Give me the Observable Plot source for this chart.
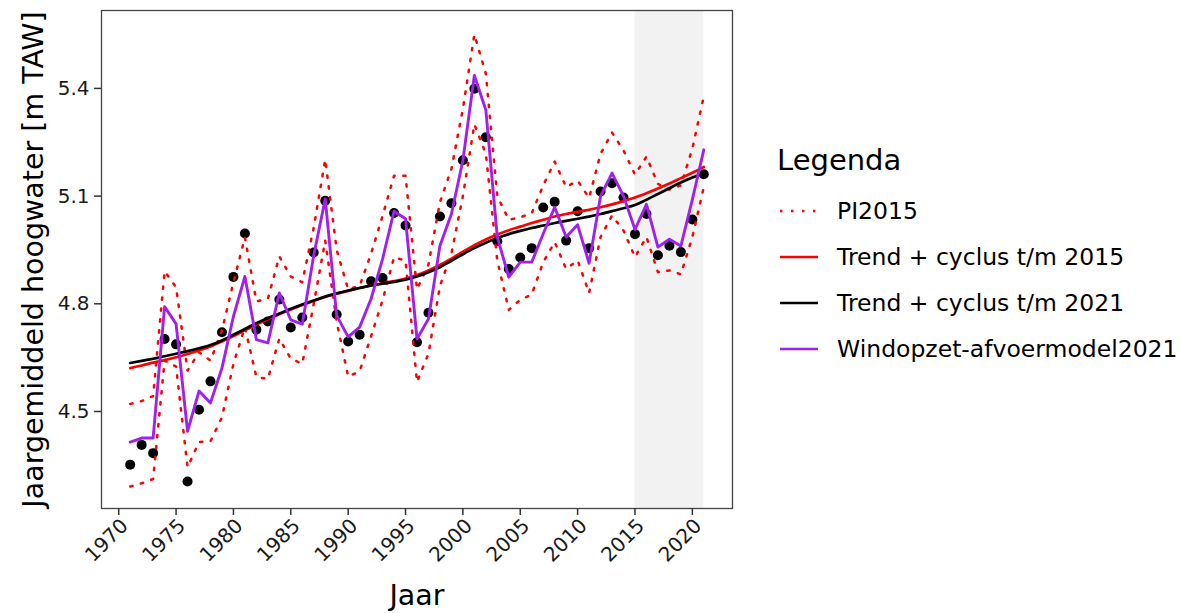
<!DOCTYPE html>
<html>
<head>
<meta charset="utf-8">
<script src="https://cdn.jsdelivr.net/npm/d3@7"></script>
<script src="https://cdn.jsdelivr.net/npm/@observablehq/plot@0.6"></script>
<style>
  body { margin: 0; background: #fff; font-family: "DejaVu Sans", sans-serif; }
  #wrap { position: relative; width: 1183px; height: 613px; }
  #legend-title { position: absolute; left: 777px; top: 140px; height: 40px; line-height: 40px; font-size: 29px; color: #000; }
  .row { position: absolute; left: 780px; height: 30px; display: flex; align-items: center; font-size: 23.5px; color: #000; white-space: nowrap; }
  .row svg { margin-right: 19px; }
</style>
</head>
<body>
<div id="wrap">
  <div id="chart"></div>
  <div id="legend-title">Legenda</div>
  <div id="legend"></div>
</div>
<script>
// Years of the annual series
const years = [1971, 1972, 1973, 1974, 1975, 1976, 1977, 1978, 1979, 1980,
  1981, 1982, 1983, 1984, 1985, 1986, 1987, 1988, 1989, 1990,
  1991, 1992, 1993, 1994, 1995, 1996, 1997, 1998, 1999, 2000,
  2001, 2002, 2003, 2004, 2005, 2006, 2007, 2008, 2009, 2010,
  2011, 2012, 2013, 2014, 2015, 2016, 2017, 2018, 2019, 2020, 2021];

// Observed annual mean high water [m TAW]
const observed = [4.352, 4.407, 4.384, 4.702, 4.687, 4.305, 4.505, 4.584, 4.721, 4.875,
  4.996, 4.728, 4.751, 4.812, 4.734, 4.762, 4.943, 5.087, 4.770, 4.695,
  4.714, 4.863, 4.872, 5.053, 5.018, 4.693, 4.775, 5.043, 5.080, 5.200,
  5.399, 5.264, 4.974, 4.897, 4.929, 4.955, 5.068, 5.084, 4.976, 5.058,
  4.955, 5.113, 5.136, 5.096, 4.994, 5.050, 4.935, 4.962, 4.944, 5.035, 5.161];

// Wind set-up / discharge model 2021
const windModel = [4.415, 4.426, 4.426, 4.792, 4.744, 4.445, 4.557, 4.524, 4.621, 4.765,
  4.876, 4.700, 4.691, 4.830, 4.755, 4.743, 4.935, 5.092, 4.767, 4.708,
  4.735, 4.814, 4.925, 5.058, 5.037, 4.702, 4.758, 4.962, 5.050, 5.199,
  5.436, 5.340, 4.986, 4.874, 4.916, 4.916, 4.995, 5.069, 4.986, 5.020,
  4.913, 5.100, 5.164, 5.100, 5.007, 5.077, 4.958, 4.980, 4.961, 5.090, 5.229];

// Prediction interval 2015: upper and lower bounds
const piUpper = [4.521, 4.529, 4.543, 4.891, 4.846, 4.614, 4.665, 4.642, 4.726, 4.860,
  4.985, 4.807, 4.814, 4.932, 4.876, 4.860, 5.013, 5.202, 4.950, 4.840,
  4.850, 4.940, 5.045, 5.157, 5.157, 4.840, 4.910, 5.083, 5.176, 5.343,
  5.550, 5.441, 5.100, 5.034, 5.041, 5.052, 5.130, 5.196, 5.125, 5.143,
  5.095, 5.218, 5.277, 5.227, 5.160, 5.210, 5.134, 5.118, 5.130, 5.232, 5.378];
const piLower = [4.291, 4.300, 4.312, 4.642, 4.625, 4.345, 4.415, 4.417, 4.484, 4.633,
  4.735, 4.596, 4.591, 4.703, 4.647, 4.633, 4.800, 4.976, 4.750, 4.597,
  4.612, 4.710, 4.810, 4.930, 4.920, 4.582, 4.661, 4.850, 4.940, 5.100,
  5.300, 5.218, 4.920, 4.783, 4.811, 4.826, 4.916, 4.972, 4.897, 4.921,
  4.830, 4.986, 5.046, 5.004, 4.930, 4.986, 4.888, 4.893, 4.882, 4.986, 5.125];

// Trend + cycle fits (through 2015 and through 2021)
const trend2015 = [4.621, 4.628, 4.636, 4.643, 4.651, 4.660, 4.670, 4.681, 4.695, 4.710,
  4.726, 4.742, 4.757, 4.771, 4.784, 4.797, 4.808, 4.819, 4.828, 4.836,
  4.844, 4.851, 4.857, 4.863, 4.870, 4.880, 4.893, 4.908, 4.926, 4.945,
  4.963, 4.979, 4.993, 5.005, 5.015, 5.025, 5.034, 5.043, 5.050, 5.056,
  5.062, 5.069, 5.077, 5.086, 5.096, 5.108, 5.121, 5.135, 5.150, 5.165, 5.181];
const trend2021 = [4.635, 4.641, 4.647, 4.654, 4.661, 4.668, 4.676, 4.685, 4.698, 4.714,
  4.730, 4.746, 4.760, 4.773, 4.786, 4.798, 4.809, 4.820, 4.829, 4.837,
  4.844, 4.851, 4.856, 4.861, 4.867, 4.876, 4.888, 4.902, 4.920, 4.938,
  4.955, 4.970, 4.983, 4.994, 5.003, 5.011, 5.018, 5.025, 5.031, 5.037,
  5.043, 5.050, 5.058, 5.066, 5.075, 5.090, 5.106, 5.122, 5.138, 5.152, 5.164];

// Validation period highlighted in grey
const shadeFrom = [2015];
const shadeTo = [2021];

// Axis ticks
const xTicks = [1970, 1975, 1980, 1985, 1990, 1995, 2000, 2005, 2010, 2015, 2020];
const yTicks = [4.5, 4.8, 5.1, 5.4];

// Legend entries
const legendLabels = ["PI2015", "Trend + cyclus t/m 2015", "Trend + cyclus t/m 2021", "Windopzet-afvoermodel2021"];
const legendColors = ["red", "red", "black", "#a020f0"];
const dotted = "2.4 8.6";
const legendDash = [dotted, null, null, null];

const lineW = 2.7;

const chart = Plot.plot({
  width: 1183,
  height: 613,
  marginLeft: 101,
  marginRight: 451,
  marginTop: 10,
  marginBottom: 105,
  style: { fontFamily: '"DejaVu Sans", sans-serif', background: "white", color: "black" },
  x: { domain: [1968.5, 2023.5] },
  y: { domain: [4.2298, 5.617] },
  marks: [
    Plot.rect(shadeFrom, { x1: shadeFrom, x2: shadeTo, fill: "#f2f2f2" }),
    Plot.dot(observed, { x: years, y: observed, r: 5, fill: "black", stroke: "none" }),
    Plot.line(piUpper, { x: years, y: piUpper, stroke: "red", strokeWidth: 2.5, strokeDasharray: dotted }),
    Plot.line(piLower, { x: years, y: piLower, stroke: "red", strokeWidth: 2.5, strokeDasharray: dotted }),
    Plot.line(trend2015, { x: years, y: trend2015, stroke: "red", strokeWidth: lineW, curve: "monotone-x" }),
    Plot.line(trend2021, { x: years, y: trend2021, stroke: "black", strokeWidth: lineW, curve: "monotone-x" }),
    Plot.line(windModel, { x: years, y: windModel, stroke: "#a020f0", strokeWidth: 2.9 }),
    Plot.frame({ stroke: "#444", strokeWidth: 1.3 }),
    // x tick marks
    Plot.axisX({
      ticks: xTicks, tickFormat: () => "", tickSize: 7, label: null,
      stroke: "#333", strokeWidth: 1.5
    }),
    // x tick labels, rotated
    Plot.axisX({
      ticks: xTicks, tickFormat: d => String(d), tickRotate: -45, textAnchor: "end",
      tickSize: 0, tickPadding: 10, fontSize: 20, label: null,
      fill: "#1a1a1a", dx: 6, dy: 4
    }),
    Plot.axisY({
      ticks: yTicks, tickFormat: d3.format(".1f"), tickSize: 7, tickPadding: 5,
      fontSize: 20, label: null, stroke: "#333", strokeWidth: 1.5, fill: "#1a1a1a"
    }),
    Plot.text(["Jaar"], { frameAnchor: "bottom", dy: 96, fontSize: 28.5, fill: "black" }),
    Plot.text(["Jaargemiddeld hoogwater [m TAW]"], {
      frameAnchor: "left", textAnchor: "middle", rotate: -90, dx: -68, fontSize: 28.5, fill: "black"
    })
  ]
});
document.getElementById("chart").appendChild(chart);

// Legend on the right
const legend = document.getElementById("legend");
legendLabels.forEach((label, i) => {
  const row = document.createElement("div");
  row.className = "row";
  row.style.top = (195.5 + 46.3 * i) + "px";
  const ns = "http://www.w3.org/2000/svg";
  const svg = document.createElementNS(ns, "svg");
  svg.setAttribute("width", 38);
  svg.setAttribute("height", 30);
  const ln = document.createElementNS(ns, "line");
  ln.setAttribute("x1", 0); ln.setAttribute("x2", 38);
  ln.setAttribute("y1", 15); ln.setAttribute("y2", 15);
  ln.setAttribute("stroke", legendColors[i]);
  ln.setAttribute("stroke-width", lineW);
  if (legendDash[i]) ln.setAttribute("stroke-dasharray", legendDash[i]);
  svg.appendChild(ln);
  row.appendChild(svg);
  const span = document.createElement("span");
  span.textContent = label;
  row.appendChild(span);
  legend.appendChild(row);
});
</script>
</body>
</html>
